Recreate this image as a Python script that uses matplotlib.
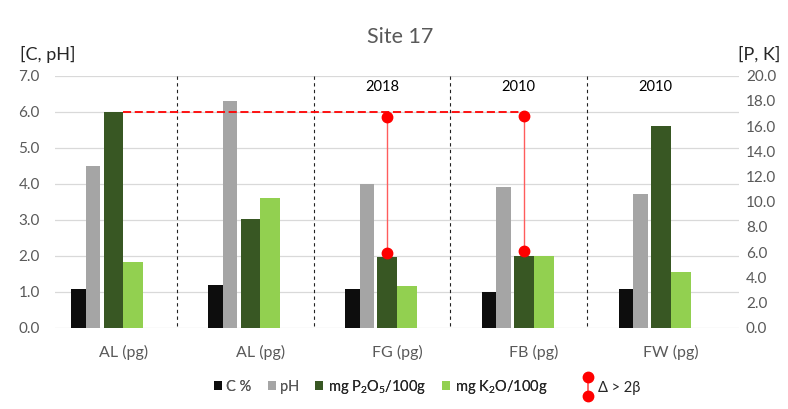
import numpy as np
import matplotlib
matplotlib.use("Agg")
import matplotlib.pyplot as plt
from matplotlib.legend_handler import HandlerBase
from matplotlib.lines import Line2D

plt.rcParams['font.family'] = ['Lato', 'DejaVu Sans']
plt.rcParams['mathtext.fontset'] = 'custom'
plt.rcParams['mathtext.rm'] = 'Lato'
plt.rcParams['mathtext.it'] = 'Lato:italic'

# data (left axis: C %, pH ; right axis: mg/100g)
categories = ['AL (pg)', 'AL (pg)', 'FG (pg)', 'FB (pg)', 'FW (pg)']
years = ['', '', '2018', '2010', '2010']
c_pct = [1.07, 1.19, 1.07, 0.98, 1.07]
ph = [4.49, 6.3, 3.98, 3.9, 3.7]
p2o5 = [17.1, 8.6, 5.6, 5.7, 16.0]
k2o = [5.2, 10.3, 3.3, 5.7, 4.4]
delta_idx = [2, 3]
delta_hi = [16.7, 16.8]
delta_lo = [5.95, 6.1]

col_c = '#0d0d0d'
col_ph = '#a5a5a5'
col_p = '#385723'
col_k = '#92d050'
txt_gray = '#595959'


class HandlerDelta(HandlerBase):
    # vertical red line with a dot on each end
    def create_artists(self, legend, orig_handle, xdescent, ydescent,
                       width, height, fontsize, trans):
        xc = width / 2 - xdescent
        y0 = -ydescent - 1.5
        y1 = height - ydescent + 1.5
        ln = Line2D([xc, xc], [y0, y1], color='#ff4d4d', lw=1.2,
                    transform=trans, zorder=1)
        mk = Line2D([xc, xc], [y0, y1], ls='none', marker='o', ms=7.5,
                    color='#ff0000', transform=trans, zorder=2)
        return [ln, mk]


fig = plt.figure(figsize=(7.88, 4.09), dpi=100)
ax = fig.add_axes([0.0698, 0.1988, 0.8680, 0.6161])
ax2 = ax.twinx()

x = np.arange(len(categories))

# grid
ax.set_axisbelow(True)
ax.yaxis.grid(True, color='#d9d9d9', lw=0.9)
for s in ax.spines.values():
    s.set_visible(False)
for s in ax2.spines.values():
    s.set_visible(False)

b_c = ax.bar(x - 0.327, c_pct, width=0.106, color=col_c, label='C %')
b_ph = ax.bar(x - 0.221, ph, width=0.106, color=col_ph, label='pH')
b_p = ax2.bar(x - 0.0715, p2o5, width=0.143, color=col_p,
              label=r'mg P$_2$O$_5$/100g')
b_k = ax2.bar(x + 0.073, k2o, width=0.146, color=col_k,
              label=r'mg K$_2$O/100g')

# dashed separators between sites
for xi in x[:-1]:
    ax.axvline(xi + 0.39, ymin=0.005, ymax=1.0, color='#222222', lw=0.8,
               ls=(0, (3, 3)))

# red comparison marks
dx = np.array(delta_idx) - 0.07
ax2.plot([0, dx[-1]], [p2o5[0], p2o5[0]], color='#ff0000', lw=1.3,
         ls=(0, (4.5, 2)), zorder=5)
ax2.vlines(dx, delta_lo, delta_hi, color='#ff5c5c', lw=1.0, zorder=5)
ax2.plot(dx, delta_hi, 'o', color='#ff0000', ms=7.5, zorder=6)
ax2.plot(dx, delta_lo, 'o', color='#ff0000', ms=7.5, zorder=6)

# year labels
for xi, yr in zip(x, years):
    if yr:
        ax.text(xi - 0.11, 6.7, yr, ha='center', va='center', fontsize=10.5,
                color='#000000')

ax.set_xlim(-0.5, 4.5)
ax.set_ylim(0, 7)
ax2.set_ylim(0, 20)
ax.set_yticks(np.arange(0, 7.01, 1.0))
ax2.set_yticks(np.arange(0, 20.01, 2.0))
ax.yaxis.set_major_formatter(matplotlib.ticker.FormatStrFormatter('%.1f'))
ax2.yaxis.set_major_formatter(matplotlib.ticker.FormatStrFormatter('%.1f'))
ax.set_xticks(x)
ax.set_xticklabels(categories)
ax.tick_params(axis='y', length=0, pad=11, labelsize=11, labelcolor=txt_gray)
ax2.tick_params(axis='y', length=0, pad=5, labelsize=11, labelcolor=txt_gray)
ax.tick_params(axis='x', length=0, pad=12.5, labelsize=11.5, labelcolor=txt_gray)

# titles and axis captions
fig.text(0.508, 0.91, 'Site 17', ha='center', va='center', fontsize=15.5,
         color=txt_gray)
fig.text(0.025, 0.866, '[C, pH]', ha='left', va='center', fontsize=13,
         color='#262626')
fig.text(0.936, 0.866, '[P, K]', ha='left', va='center', fontsize=13,
         color='#262626')

# legends
leg1 = fig.legend(handles=[b_c, b_ph, b_p, b_k], loc='center',
                  bbox_to_anchor=(0.483, 0.054), ncol=4, frameon=False,
                  fontsize=10.5, handlelength=0.55, handleheight=0.55,
                  handletextpad=0.3, columnspacing=1.1)
for t, c in zip(leg1.get_texts(), [txt_gray, txt_gray, '#262626', '#262626']):
    t.set_color(c)
fig.add_artist(leg1)
delta_handle = Line2D([], [])
fig.legend(handles=[delta_handle], labels=[r'Δ > 2β'], loc='center',
           bbox_to_anchor=(0.777, 0.054), frameon=False, fontsize=10.5,
           handler_map={delta_handle: HandlerDelta()}, handlelength=0.6,
           handleheight=1.2, handletextpad=0.4, labelcolor='#262626')

fig.savefig('out.png', dpi=100)
